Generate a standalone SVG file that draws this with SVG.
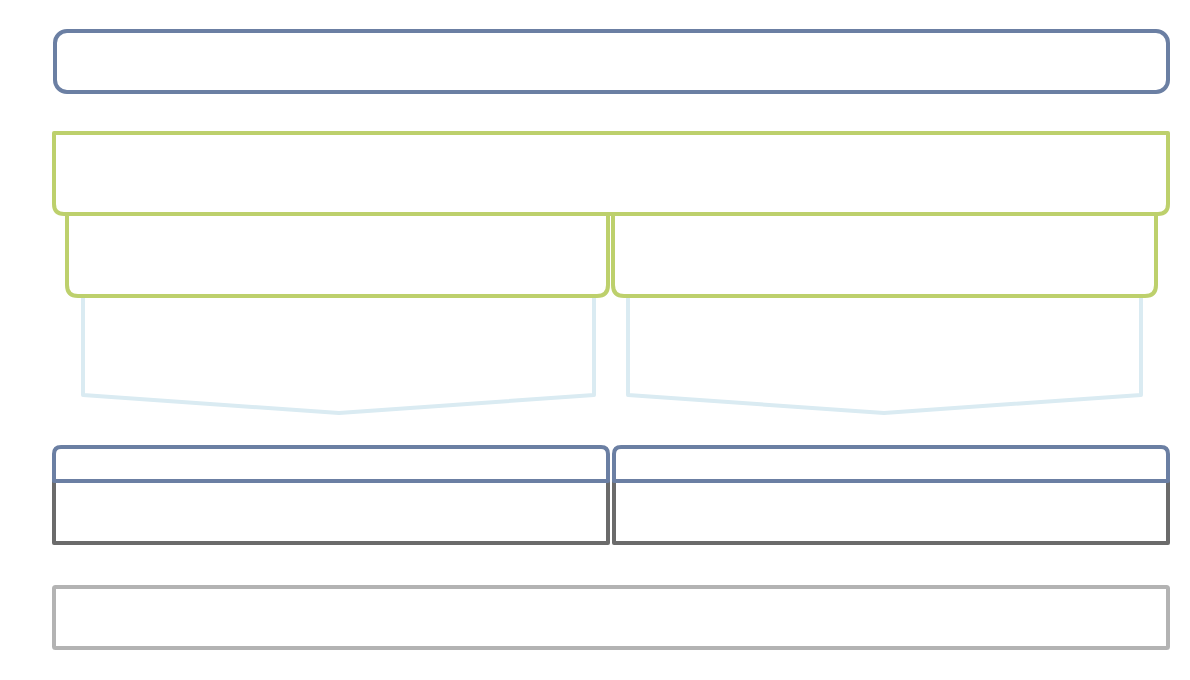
<svg xmlns="http://www.w3.org/2000/svg" width="1190" height="680" viewBox="0 0 1190 680">
<style>
.blue{fill:none;stroke:#6B7FA3;stroke-width:4;stroke-linejoin:round}
.green{fill:none;stroke:#BDD06C;stroke-width:4;stroke-linejoin:round}
.light{fill:none;stroke:#DAEBF2;stroke-width:4;stroke-linejoin:round}
.dark{fill:none;stroke:#6B6B6B;stroke-width:4;stroke-linejoin:round}
.gray{fill:none;stroke:#B3B3B3;stroke-width:4;stroke-linejoin:round}
</style>
<rect width="1190" height="680" fill="#fff"/>
<g id="top"><rect class="blue" x="55" y="31" width="1113" height="61" rx="12"/></g>
<g id="arrow-left"><path class="light" d="M83,296 V395 L339,413 L594,395 V296"/></g>
<g id="arrow-right"><path class="light" d="M628,296 V395 L884,413 L1141,395 V296"/></g>
<g id="green-main"><path class="green" d="M54,133 H1168 V204 Q1168,214 1158,214 H64 Q54,214 54,204 Z"/></g>
<g id="green-left"><path class="green" d="M67,214 V285 Q67,296 78,296 H597 Q608,296 608,285 V214"/></g>
<g id="green-right"><path class="green" d="M613,214 V285 Q613,296 624,296 H1145 Q1156,296 1156,285 V214"/></g>
<g id="box-left">
<path class="dark" d="M54,481 V543 H608 V481"/>
<path class="blue" d="M54,481 V454 Q54,447 61,447 H601 Q608,447 608,454 V481 Z"/>
</g>
<g id="box-right">
<path class="dark" d="M614,481 V543 H1168 V481"/>
<path class="blue" d="M614,481 V454 Q614,447 621,447 H1161 Q1168,447 1168,454 V481 Z"/>
</g>
<g id="bottom"><rect class="gray" x="54" y="587" width="1114" height="61" rx="1.5"/></g>
<g id="connectors"></g>
</svg>
